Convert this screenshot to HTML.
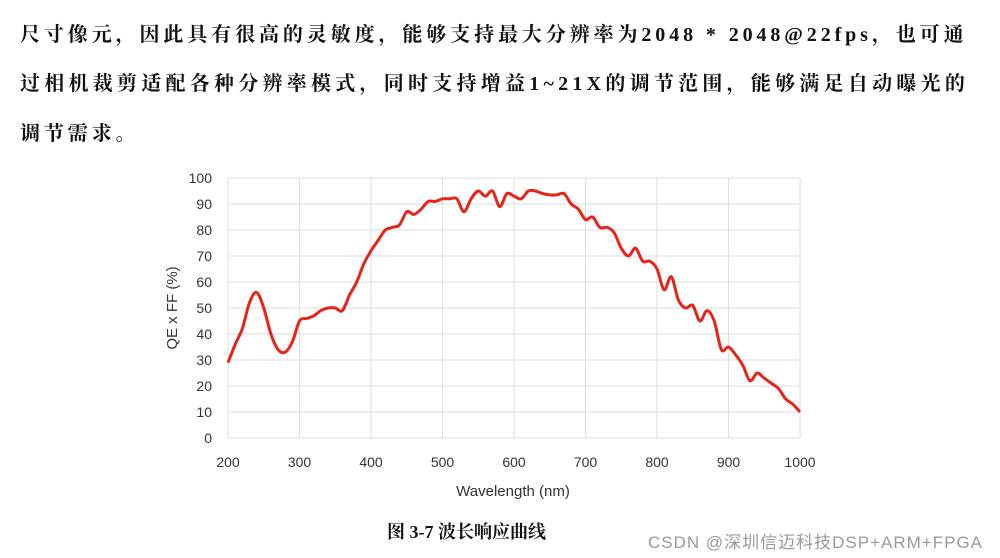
<!DOCTYPE html>
<html><head><meta charset="utf-8"><style>
body{margin:0;background:#fff;width:1000px;height:558px;overflow:hidden;position:relative;font-family:"Liberation Serif","Noto Serif CJK SC",serif}
.p{position:absolute;left:20px;font-size:20px;color:#111;font-weight:bold;letter-spacing:3.9px;white-space:nowrap}
</style></head><body>
<div class="p" style="top:18px">尺寸像元，因此具有很高的灵敏度，能够支持最大分辨率为2048 * 2048@22fps，也可通</div>
<div class="p" style="top:67px;letter-spacing:4.25px">过相机裁剪适配各种分辨率模式，同时支持增益1~21X的调节范围，能够满足自动曝光的</div>
<div class="p" style="top:117px">调节需求。</div>
<svg id="s" width="1000" height="558" style="position:absolute;left:0;top:0" font-family="Liberation Sans, sans-serif"></svg>
<div style="position:absolute;top:518px;left:387px;font-size:18px;font-weight:bold;color:#111;font-family:'Liberation Serif','Noto Serif CJK SC',serif">图 3-7 波长响应曲线</div>
<div style="position:absolute;top:528px;left:648px;font-size:17px;letter-spacing:1.0px;color:#999;font-family:'Liberation Sans','Noto Sans CJK SC',sans-serif">CSDN @深圳信迈科技DSP+ARM+FPGA</div>
<script>
var X=function(n){return 228+(n-200)*0.715},Y=function(v){return 438-v*2.6};
var s='';
for(var v=0;v<=100;v+=10){s+='<line x1="228" x2="800" y1="'+Y(v)+'" y2="'+Y(v)+'" stroke="#ddd"/>';
s+='<text x="212" y="'+(Y(v)+5)+'" text-anchor="end" font-size="14" fill="#333">'+v+'</text>';}
for(var n=200;n<=1000;n+=100){s+='<line x1="'+X(n)+'" x2="'+X(n)+'" y1="178" y2="438" stroke="#ddd"/>';
s+='<text x="'+X(n)+'" y="467" text-anchor="middle" font-size="14" fill="#333">'+n+'</text>';}
s+='<text x="513" y="496" text-anchor="middle" font-size="15" fill="#333">Wavelength (nm)</text>';
s+='<text transform="translate(177,308) rotate(-90)" text-anchor="middle" font-size="15" fill="#333">QE x FF (%)</text>';
var d=[29,36,42,52,56,50,40,34,33,37,45,46,47,49,50,50,49,55,60,67,72,76,80,81,82,87,86,88,91,91,92,92,92,87,92,95,93,95,89,94,93,92,95,95,94,93.5,93.5,94,90,88,84,85,81,81,79,73,70,73,68,68,65,57,62,53,50,51,45,49,45,34,35,32,28,22,25,23,21,19,15,13,10];
var pts=[];for(var i=0;i<d.length;i++)pts.push([X(200+i*10),Y(d[i])]);
var p='M'+pts[0];for(i=0;i<pts.length-1;i++){var p0=pts[i-1]||pts[i],p1=pts[i],p2=pts[i+1],p3=pts[i+2]||p2;
p+='C'+(p1[0]+(p2[0]-p0[0])/6)+','+(p1[1]+(p2[1]-p0[1])/6)+' '+(p2[0]-(p3[0]-p1[0])/6)+','+(p2[1]-(p3[1]-p1[1])/6)+' '+p2;}
s+='<path d="'+p+'" fill="none" stroke="#e5241b" stroke-width="3" stroke-linejoin="round"/>';
document.getElementById('s').innerHTML=s;
</script>
</body></html>
